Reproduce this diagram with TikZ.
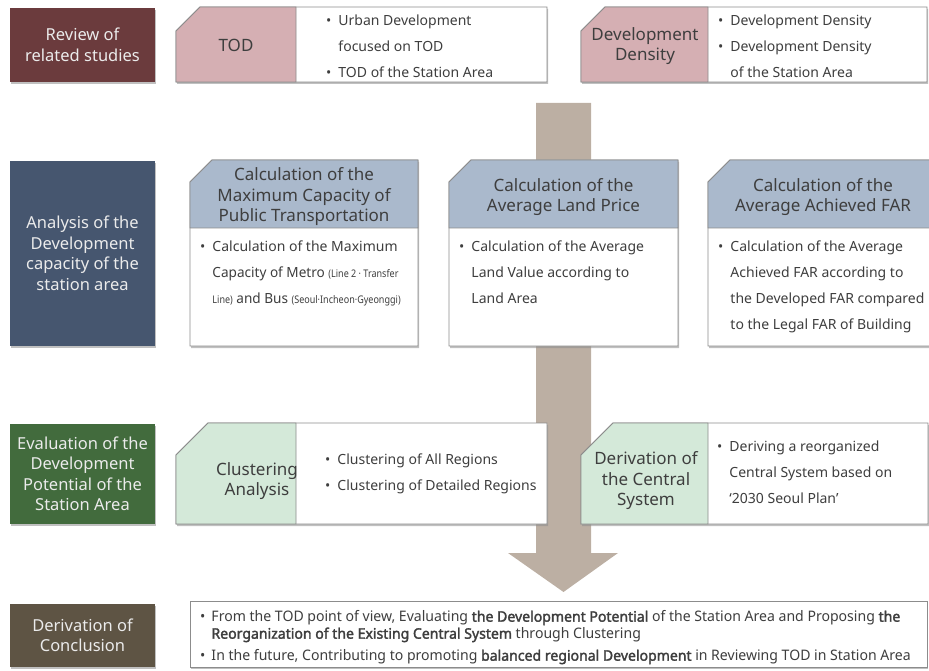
\documentclass[tikz,border=0pt]{standalone}
\usepackage{fontspec}
\setmainfont{Noto Sans}
\newfontfamily\narrowfont[FakeStretch=0.97, BoldFont={*}, BoldFeatures={FakeBold=2}]{Noto Sans}
\newfontfamily\condfont[FakeStretch=0.86]{Noto Sans}
\usetikzlibrary{positioning,shadows}

\definecolor{reviewred}{HTML}{6B3B3D}
\definecolor{analysisblue}{HTML}{46566F}
\definecolor{evalgreen}{HTML}{426B3D}
\definecolor{conclbrown}{HTML}{5E5444}
\definecolor{todpink}{HTML}{D5AFB3}
\definecolor{calcblue}{HTML}{AAB9CC}
\definecolor{clustgreen}{HTML}{D4E9D9}
\definecolor{arrowtan}{HTML}{BCAFA3}
\definecolor{edgegray}{HTML}{8C8C8C}
\definecolor{textgray}{HTML}{3E3E3E}

\tikzset{
  boxshadow/.style={drop shadow={shadow xshift=1.2pt, shadow yshift=-2pt, fill=black!45, opacity=.55}},
  catbox/.style={minimum width=145pt, inner sep=0pt, align=center, text=white!92!black,
    font=\fontsize{16.5}{20.5}\selectfont, boxshadow},
  boxedge/.style={draw=edgegray, line width=0.8pt},
  head/.style={align=center, text=textgray, font=\fontsize{17}{20.5}\selectfont},
  bullets/.style={anchor=north west, inner sep=0pt, text=textgray, font=\fontsize{14}{26}\selectfont},
  concl/.style={anchor=north west, inner sep=0pt, text=textgray, font=\narrowfont\fontsize{14.5}{17}\selectfont},
}
\newcommand{\smallpar}{\condfont\fontsize{10.5}{10.5}\selectfont}

\begin{document}
\begin{tikzpicture}[x=1pt,y=-1pt]
    \useasboundingbox (0,0) rectangle (929,671);

    % flow arrow behind everything
    \fill[arrowtan] (536,103) -- (591,103) -- (591,553) -- (618,553) -- (563.5,592) -- (508,553) -- (536,553) -- cycle;

    % stage boxes on the left
    \node[catbox, fill=reviewred, minimum height=74pt] (review) at (82.5,45) {Review of\\related studies};
    \node[catbox, fill=analysisblue, minimum height=185pt] (analysis) at (82.5,253.5) {Analysis of the\\Development\\capacity of the\\station area};
    \node[catbox, fill=evalgreen, minimum height=100pt] (evaluation) at (82.5,474) {Evaluation of the\\Development\\Potential of the\\Station Area};
    \node[catbox, fill=conclbrown, minimum height=63pt] (conclusion) at (82.5,635.5) {Derivation of\\Conclusion};

    % 1st row
    \filldraw[boxedge, fill=white, boxshadow] (176,31) -- (200,7) -- (547,7) -- (547,82) -- (176,82) -- cycle;
    \filldraw[boxedge, fill=todpink] (176,31) -- (200,7) -- (296,7) -- (296,82) -- (176,82) -- cycle;
    \node[head] (tod) at (236,45) {TOD};
    \node[bullets] (todlist) at (326,7.3) {\begin{tabular}{@{}l@{\hspace{7pt}}l@{}}
        •& Urban Development\\ & focused on TOD\\ •& TOD of the Station Area\end{tabular}};

    \filldraw[boxedge, fill=white, boxshadow] (581,31) -- (605,7) -- (927,7) -- (927,82) -- (581,82) -- cycle;
    \filldraw[boxedge, fill=todpink] (581,31) -- (605,7) -- (708,7) -- (708,82) -- (581,82) -- cycle;
    \node[head] (density) at (645,46) {Development\\Density};
    \node[bullets] (densitylist) at (718,7.3) {\begin{tabular}{@{}l@{\hspace{7pt}}l@{}}
        •& Development Density\\ •& Development Density\\ & of the Station Area\end{tabular}};

    % 2nd row
    \filldraw[boxedge, fill=white, boxshadow] (190,182) -- (212,160) -- (418,160) -- (418,346) -- (190,346) -- cycle;
    \filldraw[boxedge, fill=calcblue] (190,182) -- (212,160) -- (418,160) -- (418,228) -- (190,228) -- cycle;
    \node[head] (capacity) at (304,197) {Calculation of the\\Maximum Capacity of\\Public Transportation};
    \node[bullets] (capacitylist) at (200,233.3) {\begin{tabular}{@{}l@{\hspace{7pt}}l@{}}
        •& Calculation of the Maximum\\
         & {\narrowfont Capacity of Metro {\smallpar(Line 2 · Transfer}}\\
         & {\narrowfont{\smallpar Line)} and Bus {\smallpar(Seoul·Incheon·Gyeonggi)}}\end{tabular}};

    \filldraw[boxedge, fill=white, boxshadow] (449,182) -- (471,160) -- (678,160) -- (678,346) -- (449,346) -- cycle;
    \filldraw[boxedge, fill=calcblue] (449,182) -- (471,160) -- (678,160) -- (678,228) -- (449,228) -- cycle;
    \node[head] (landprice) at (563.5,197) {Calculation of the\\Average Land Price};
    \node[bullets] (landpricelist) at (459,233.3) {\begin{tabular}{@{}l@{\hspace{7pt}}l@{}}
        •& Calculation of the Average\\ & Land Value according to\\ & Land Area\end{tabular}};

    \filldraw[boxedge, fill=white, boxshadow] (708,182) -- (730,160) -- (940,160) -- (940,346) -- (708,346) -- cycle;
    \filldraw[boxedge, fill=calcblue] (708,182) -- (730,160) -- (940,160) -- (940,228) -- (708,228) -- cycle;
    \node[head] (far) at (823,197) {Calculation of the\\Average Achieved FAR};
    \node[bullets] (farlist) at (718,233.3) {\begin{tabular}{@{}l@{\hspace{7pt}}l@{}}
        •& Calculation of the Average\\ & Achieved FAR according to\\
         & the Developed FAR compared\\ & to the Legal FAR of Building\end{tabular}};

    % 3rd row
    \filldraw[boxedge, fill=white, boxshadow] (176,455) -- (208,423) -- (547,423) -- (547,524) -- (176,524) -- cycle;
    \filldraw[boxedge, fill=clustgreen] (176,455) -- (208,423) -- (296,423) -- (296,524) -- (176,524) -- cycle;
    \node[head] (clustering) at (257,481) {Clustering\\Analysis};
    \node[bullets] (clusteringlist) at (325,446.3) {\begin{tabular}{@{}l@{\hspace{7pt}}l@{}}
        •& Clustering of All Regions\\ •& Clustering of Detailed Regions\end{tabular}};

    \filldraw[boxedge, fill=white, boxshadow] (581,455) -- (613,423) -- (928,423) -- (928,524) -- (581,524) -- cycle;
    \filldraw[boxedge, fill=clustgreen] (581,455) -- (613,423) -- (708,423) -- (708,524) -- (581,524) -- cycle;
    \node[head] (central) at (646,481) {Derivation of\\the Central\\System};
    \node[bullets] (centrallist) at (717,433.3) {\begin{tabular}{@{}l@{\hspace{7pt}}l@{}}
        •& Deriving a reorganized\\ & Central System based on\\ & ‘2030 Seoul Plan’\end{tabular}};

    % conclusion
    \filldraw[boxedge, fill=white, boxshadow] (190,601) rectangle (927,667);
    \node[concl] (result) at (200,609.6) {\begin{tabular}{@{}l@{\hspace{6pt}}l@{}}
        •& From the TOD point of view, Evaluating \textbf{the Development Potential} of the Station Area and Proposing \textbf{the}\\
         & \textbf{Reorganization of the Existing Central System} through Clustering\\[5pt]
        •& In the future, Contributing to promoting \textbf{balanced regional Development} in Reviewing TOD in Station Area\end{tabular}};
\end{tikzpicture}
\end{document}
